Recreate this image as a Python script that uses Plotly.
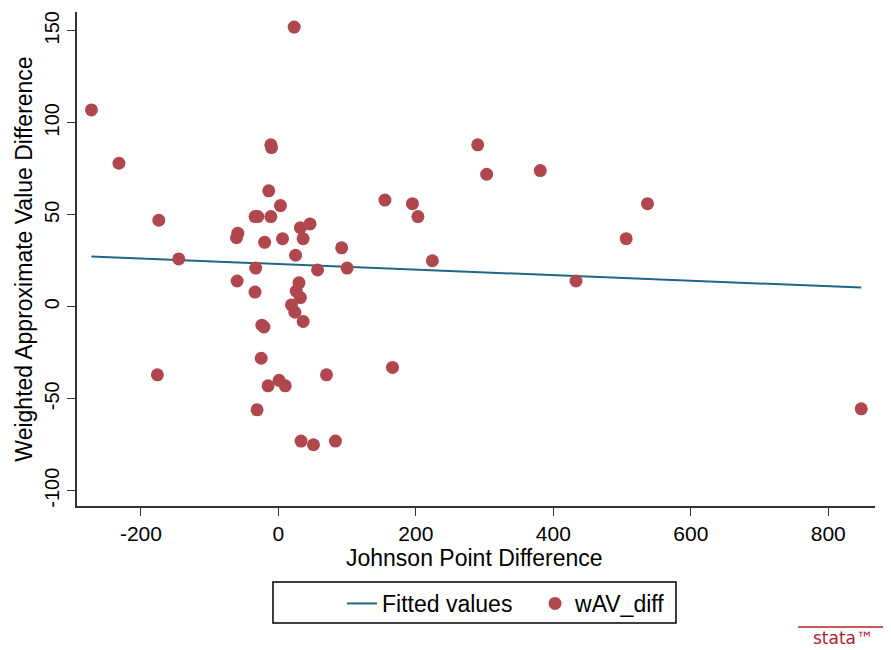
import plotly.graph_objects as go

# Data
johnson_diff = [-272, -232, 23, -174, -145, -11, -10, -14, 3, -34, -30, -11, -59, -61, -20, 6,
                32, 46, 36, 92, 25, -33, 57, 100, -60, -34, 30, 26, 32, 19, 24, 36,
                -24, -21, -25, -176, 70, 166, 1, -15, 10, -31, 33, 51, 83,
                290, 303, 381, 537, 506, 433, 848, 155, 195, 203, 224]
wav_diff = [107, 78, 152, 47, 26, 88, 86.5, 63, 55, 49, 49, 49, 40, 37.5, 35, 37,
            43, 45, 37, 32, 28, 21, 20, 21, 14, 8, 13, 8.5, 5, 1, -3, -8,
            -10, -11, -28, -37, -37, -33, -40, -43, -43, -56, -73, -75, -73,
            88, 72, 74, 56, 37, 14, -55.5, 58, 56, 49, 25]

fit_x = [-272, 848]
fit_y = [27.3, 10.4]

x_ticks = [-200, 0, 200, 400, 600, 800]
x_tick_labels = ["-200", "0", "200", "400", "600", "800"]
y_ticks = [-100, -50, 0, 50, 100, 150]
y_tick_labels = ["-100", "-50", "0", "50", "100", "150"]

FONT = "Liberation Sans, Arial, sans-serif"
MARKER = "#b0474e"
LINE = "#1f6783"
LOGO = "#b02030"

# the page body has an 8px margin; size the figure so the window is filled exactly
W, H = 883, 642

fig = go.Figure()
fig.add_trace(go.Scatter(x=fit_x, y=fit_y, mode="lines", name="Fitted values",
                         line=dict(color=LINE, width=2)))
fig.add_trace(go.Scatter(x=johnson_diff, y=wav_diff, mode="markers", name="wAV_diff",
                         marker=dict(color=MARKER, size=13, line=dict(width=0))))

fig.update_layout(
    width=W, height=H,
    paper_bgcolor="white", plot_bgcolor="white",
    margin=dict(l=69, r=16, t=4, b=144, autoexpand=False),
    font=dict(family=FONT, size=19, color="black"),
    showlegend=True,
    legend=dict(orientation="h", xanchor="left", x=0.3321, yref="container",
                yanchor="top", y=1 - 574 / H,
                borderwidth=0, bgcolor="rgba(0,0,0,0)",
                font=dict(size=23), entrywidth=148, traceorder="normal"),
    xaxis=dict(range=[-293, 868], tickvals=x_ticks, ticktext=x_tick_labels,
               showgrid=False, zeroline=False, automargin=False,
               showline=True, linecolor="#333", linewidth=1.5, ticks="outside",
               ticklen=8, tickcolor="#333", tickfont=dict(size=21)),
    yaxis=dict(range=[-108.3, 160.2], tickvals=y_ticks, ticktext=y_tick_labels,
               showgrid=False, zeroline=False, automargin=False,
               showline=True, linecolor="#333", linewidth=1.5, ticks="outside",
               ticklen=8, tickcolor="#333", tickangle=-90, tickfont=dict(size=20),
               title=dict(text="Weighted Approximate Value Difference", font=dict(size=23),
                          standoff=2)),
)

# x-axis title placed precisely
fig.add_annotation(text="Johnson Point Difference", xref="paper", yref="paper",
                   x=0.4987, y=-0.1053, xanchor="center", yanchor="middle",
                   showarrow=False, font=dict(size=23))

# legend frame
fig.add_shape(type="rect", xref="paper", yref="paper", x0=0.2456, x1=0.7506,
              y0=-0.2368, y1=-0.1538, line=dict(color="black", width=1.5))

# Stata logo
fig.add_annotation(text="stata\u2122", xref="paper", yref="paper", x=1.0, y=-0.2915,
                   xanchor="right", yanchor="bottom", showarrow=False,
                   font=dict(family="DejaVu Sans", size=17, color=LOGO))
fig.add_shape(type="line", xref="paper", yref="paper", x0=0.9035, x1=1.019,
              y0=-0.245, y1=-0.245, line=dict(color=LOGO, width=1.5))

fig.write_html("out.html")
